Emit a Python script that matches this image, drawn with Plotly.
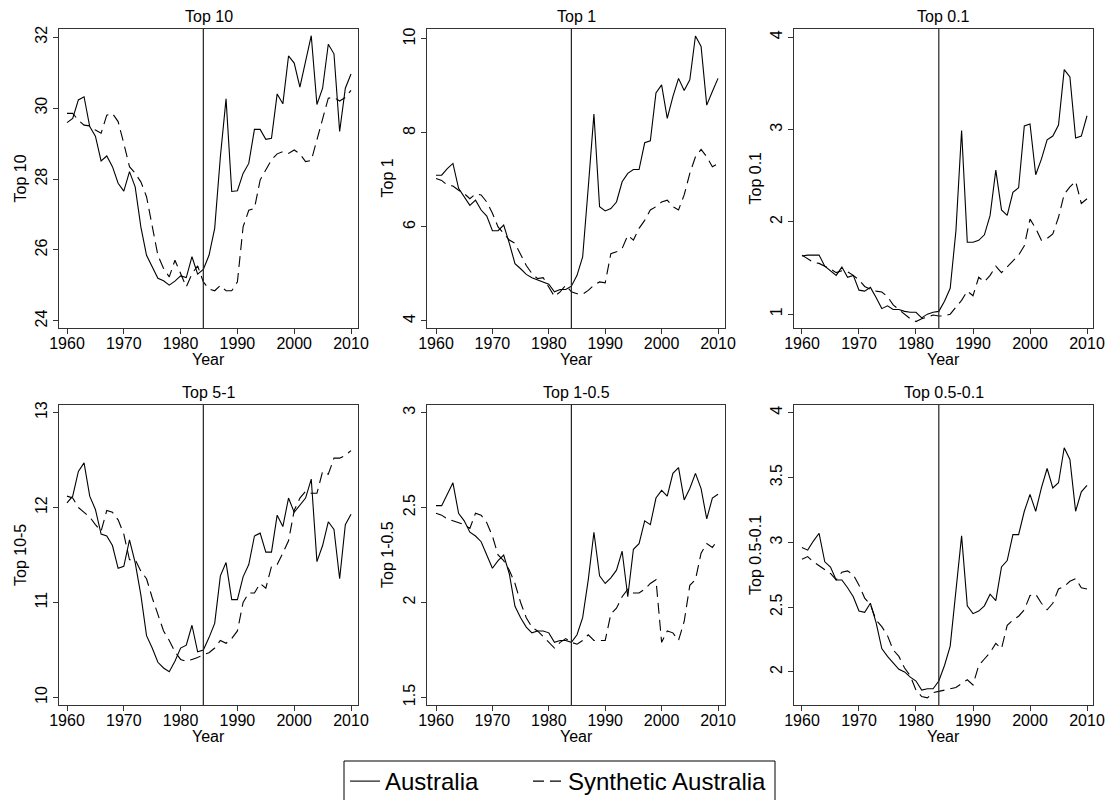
import plotly.graph_objects as go

years = list(range(1960, 2011))

top10_aus = [29.59, 29.71, 30.23, 30.32, 29.48, 29.21, 28.51, 28.65, 28.35, 27.88,
             27.66, 28.21, 27.78, 26.65, 25.85, 25.52, 25.20, 25.13, 25.01, 25.12,
             25.27, 25.22, 25.81, 25.32, 25.45, 25.85, 26.61, 28.63, 30.26, 27.65,
             27.67, 28.16, 28.44, 29.40, 29.40, 29.12, 29.15, 30.40, 30.12, 31.47,
             31.27, 30.59, 31.30, 32.04, 30.10, 30.56, 31.80, 31.53, 29.34, 30.56,
             30.96]
top10_syn = [29.85, 29.85, 29.66, 29.52, 29.50, 29.38, 29.29, 29.80, 29.85, 29.62,
             29.00, 28.35, 28.16, 27.92, 27.50, 26.65, 25.85, 25.48, 25.24, 25.71,
             25.33, 24.96, 25.33, 25.55, 25.10, 24.90, 24.85, 25.00, 24.85, 24.85,
             25.10, 26.65, 27.12, 27.17, 27.97, 28.25, 28.54, 28.71, 28.77, 28.72,
             28.82, 28.71, 28.49, 28.52, 29.10, 29.67, 30.28, 30.30, 30.20, 30.30,
             30.50]

top1_aus = [7.10, 7.10, 7.24, 7.35, 6.82, 6.64, 6.46, 6.57, 6.36, 6.23,
            5.92, 5.92, 6.04, 5.65, 5.22, 5.11, 4.99, 4.92, 4.87, 4.83,
            4.78, 4.62, 4.67, 4.67, 4.74, 4.97, 5.36, 6.85, 8.40, 6.43,
            6.34, 6.39, 6.53, 6.96, 7.14, 7.22, 7.22, 7.79, 7.83, 8.85,
            9.02, 8.31, 8.77, 9.16, 8.90, 9.13, 10.06, 9.84, 8.59, 8.88,
            9.16]
top1_syn = [7.03, 6.99, 6.89, 6.87, 6.78, 6.71, 6.60, 6.70, 6.68, 6.53,
            6.29, 6.00, 5.86, 5.72, 5.65, 5.43, 5.18, 5.01, 4.90, 4.92,
            4.72, 4.52, 4.62, 4.76, 4.62, 4.58, 4.57, 4.65, 4.76, 4.83,
            4.81, 5.43, 5.47, 5.54, 5.82, 5.72, 5.97, 6.14, 6.36, 6.43,
            6.53, 6.57, 6.43, 6.36, 6.68, 7.14, 7.49, 7.65, 7.49, 7.28,
            7.35]

top01_aus = [1.63, 1.64, 1.64, 1.64, 1.52, 1.47, 1.42, 1.51, 1.40, 1.42,
             1.26, 1.25, 1.29, 1.18, 1.06, 1.09, 1.05, 1.05, 1.03, 1.02,
             1.02, 0.96, 1.00, 1.02, 1.03, 1.14, 1.28, 1.90, 2.99, 1.78,
             1.78, 1.80, 1.86, 2.07, 2.56, 2.13, 2.07, 2.32, 2.37, 3.04,
             3.06, 2.51, 2.68, 2.89, 2.93, 3.05, 3.65, 3.57, 2.91, 2.93,
             3.15]
top01_syn = [1.64, 1.60, 1.56, 1.55, 1.52, 1.49, 1.45, 1.47, 1.46, 1.42,
             1.37, 1.30, 1.27, 1.25, 1.24, 1.19, 1.10, 1.05, 1.00, 0.95,
             0.92, 0.95, 0.97, 0.99, 0.98, 0.98, 1.00, 1.08, 1.15, 1.25,
             1.20, 1.40, 1.35, 1.42, 1.52, 1.45, 1.51, 1.57, 1.64, 1.74,
             2.03, 1.93, 1.80, 1.82, 1.87, 2.05, 2.30, 2.38, 2.44, 2.20,
             2.25]

top5_1_aus = [12.05, 12.12, 12.38, 12.47, 12.12, 11.98, 11.72, 11.70, 11.60, 11.36,
              11.38, 11.66, 11.42, 11.08, 10.65, 10.52, 10.37, 10.31, 10.27, 10.38,
              10.52, 10.55, 10.76, 10.48, 10.50, 10.63, 10.78, 11.28, 11.42, 11.03,
              11.03, 11.27, 11.40, 11.70, 11.73, 11.53, 11.53, 11.92, 11.80, 12.10,
              11.95, 12.03, 12.10, 12.30, 11.43, 11.60, 11.85, 11.77, 11.25, 11.82,
              11.93]
top5_1_syn = [12.12, 12.10, 12.00, 11.95, 11.90, 11.82, 11.75, 11.97, 11.95, 11.87,
              11.72, 11.45, 11.45, 11.33, 11.25, 11.05, 10.87, 10.70, 10.60, 10.48,
              10.40, 10.38, 10.40, 10.42, 10.45, 10.47, 10.52, 10.60, 10.57, 10.62,
              10.70, 11.00, 11.10, 11.10, 11.20, 11.15, 11.38, 11.40, 11.52, 11.65,
              11.97, 12.10, 12.17, 12.15, 12.15, 12.38, 12.35, 12.52, 12.52, 12.55,
              12.60]

top1_05_aus = [2.51, 2.51, 2.57, 2.63, 2.47, 2.43, 2.37, 2.35, 2.32, 2.25,
               2.18, 2.22, 2.25, 2.15, 1.98, 1.92, 1.87, 1.84, 1.85, 1.85,
               1.84, 1.79, 1.80, 1.80, 1.79, 1.83, 1.92, 2.12, 2.37, 2.14,
               2.10, 2.13, 2.17, 2.27, 2.03, 2.28, 2.31, 2.43, 2.41, 2.55,
               2.59, 2.56, 2.68, 2.71, 2.54, 2.60, 2.68, 2.60, 2.44, 2.55,
               2.57]
top1_05_syn = [2.47, 2.46, 2.44, 2.43, 2.42, 2.41, 2.39, 2.47, 2.46, 2.42,
               2.35, 2.25, 2.22, 2.17, 2.10, 2.00, 1.92, 1.87, 1.85, 1.82,
               1.79, 1.76, 1.79, 1.81, 1.79, 1.78, 1.80, 1.83, 1.80, 1.80,
               1.80, 1.94, 1.97, 2.03, 2.07, 2.05, 2.05, 2.07, 2.10, 2.12,
               1.79, 1.85, 1.84, 1.80, 1.90, 2.09, 2.12, 2.26, 2.31, 2.29,
               2.33]

top05_01_aus = [2.96, 2.94, 3.01, 3.07, 2.85, 2.81, 2.71, 2.71, 2.65, 2.58,
                2.47, 2.46, 2.53, 2.38, 2.18, 2.12, 2.07, 2.02, 2.00, 1.96,
                1.93, 1.86, 1.87, 1.87, 1.93, 2.05, 2.20, 2.65, 3.05, 2.51,
                2.45, 2.47, 2.51, 2.60, 2.55, 2.81, 2.86, 3.06, 3.06, 3.24,
                3.37, 3.24, 3.42, 3.57, 3.42, 3.46, 3.73, 3.64, 3.24, 3.39,
                3.44]
top05_01_syn = [2.87, 2.89, 2.85, 2.82, 2.79, 2.76, 2.71, 2.77, 2.78, 2.75,
                2.67, 2.57, 2.52, 2.40, 2.35, 2.28, 2.17, 2.12, 2.03, 1.97,
                1.86, 1.81, 1.80, 1.84, 1.85, 1.86, 1.87, 1.88, 1.91, 1.94,
                1.90, 2.05, 2.10, 2.15, 2.22, 2.18, 2.36, 2.40, 2.43, 2.48,
                2.59, 2.60, 2.53, 2.48, 2.53, 2.64, 2.66, 2.70, 2.72, 2.65,
                2.64]

titles = ["Top 10", "Top 1", "Top 0.1", "Top 5-1", "Top 1-0.5", "Top 0.5-0.1"]
ytitles = ["Top 10", "Top 1", "Top 0.1", "Top 10-5", "Top 1-0.5", "Top 0.5-0.1"]
aus_series = [top10_aus, top1_aus, top01_aus, top5_1_aus, top1_05_aus, top05_01_aus]
syn_series = [top10_syn, top1_syn, top01_syn, top5_1_syn, top1_05_syn, top05_01_syn]
ytickvals = [[24, 26, 28, 30, 32], [4, 6, 8, 10], [1, 2, 3, 4],
             [10, 11, 12, 13], [1.5, 2, 2.5, 3], [2, 2.5, 3, 3.5, 4]]
xtickvals = [1960, 1970, 1980, 1990, 2000, 2010]
treatment_year = 1984

# layout geometry (pixels)
W, H = 1110, 800
cols = [(59, 358), (427, 725), (794, 1093)]
rows = [(29, 328), (405, 705)]
yranges = [[23.8, 32.23], [3.85, 10.21], [0.85, 4.09],
           [9.92, 13.08], [1.46, 3.04], [1.745, 4.06]]
xranges = [[1958.59, 2011.23], [1958.4, 2011.24], [1958.6, 2011.05]]
ylab_x = [20, 387, 755]
title_y = [16, 392]
xlab_y = [360, 736]

FONT = "Liberation Sans, Arial, sans-serif"
FS = 16
fig = go.Figure()
layout = dict(
    width=W, height=H,
    margin=dict(l=0, r=0, t=0, b=0, autoexpand=False),
    paper_bgcolor="white", plot_bgcolor="white",
    font=dict(family=FONT, color="black", size=FS),
    showlegend=True,
    legend=dict(orientation="h", x=345 / W, xanchor="left", y=1 - 759 / H, yanchor="top",
                borderwidth=0, font=dict(size=24, family=FONT), bgcolor="rgba(0,0,0,0)"),
    legend2=dict(orientation="h", x=528 / W, xanchor="left", y=1 - 759 / H, yanchor="top",
                 borderwidth=0, font=dict(size=24, family=FONT), bgcolor="rgba(0,0,0,0)"),
)
shapes = []
annotations = []
for i in range(6):
    r, c = divmod(i, 3)
    n = i + 1
    xa = "x" if n == 1 else f"x{n}"
    ya = "y" if n == 1 else f"y{n}"
    xl = (cols[c][0] / W, cols[c][1] / W)
    yd = (1 - rows[r][1] / H, 1 - rows[r][0] / H)
    fig.add_trace(go.Scatter(x=years, y=aus_series[i], mode="lines", name="Australia",
                             line=dict(color="black", width=1.1), xaxis=xa, yaxis=ya,
                             showlegend=(i == 0), legend="legend"))
    fig.add_trace(go.Scatter(x=years, y=syn_series[i], mode="lines", name="Synthetic Australia",
                             line=dict(color="black", width=1.1, dash="11px,6px"), xaxis=xa, yaxis=ya,
                             showlegend=(i == 0), legend="legend2"))
    axis_common = dict(showline=True, linecolor="#333333", linewidth=1, mirror=True,
                       ticks="outside", ticklen=5, tickcolor="#333333", showgrid=False,
                       zeroline=False, tickfont=dict(size=FS, family=FONT))
    layout["xaxis" if n == 1 else f"xaxis{n}"] = dict(
        domain=list(xl), range=xranges[c], tickvals=xtickvals, anchor=ya,
        ticklabelstandoff=-4, **axis_common)
    layout["yaxis" if n == 1 else f"yaxis{n}"] = dict(
        domain=list(yd), range=yranges[i], tickvals=ytickvals[i], anchor=xa,
        tickangle=-90, **axis_common)
    shapes.append(dict(type="line", xref=xa, yref=f"{ya} domain", x0=treatment_year,
                       x1=treatment_year, y0=0, y1=1, line=dict(color="#222222", width=1.2)))
    cx = (cols[c][0] + cols[c][1]) / 2 / W
    annotations.append(dict(text=titles[i], x=cx, y=1 - title_y[r] / H, xref="paper", yref="paper",
                            showarrow=False, xanchor="center", yanchor="middle",
                            font=dict(size=FS, family=FONT)))
    annotations.append(dict(text="Year", x=cx, y=1 - xlab_y[r] / H, xref="paper", yref="paper",
                            showarrow=False, xanchor="center", yanchor="middle",
                            font=dict(size=FS, family=FONT)))
    cy = 1 - (rows[r][0] + rows[r][1]) / 2 / H
    annotations.append(dict(text=ytitles[i], x=ylab_x[c] / W, y=cy, xref="paper", yref="paper",
                            showarrow=False, xanchor="center", yanchor="middle", textangle=-90,
                            font=dict(size=FS, family=FONT)))

# legend frame (open at the bottom edge of the page, as in the reference)
shapes.append(dict(type="rect", xref="paper", yref="paper", x0=344 / W, x1=775 / W,
                   y0=-0.05, y1=1 - 761 / H, line=dict(color="black", width=1),
                   fillcolor="rgba(0,0,0,0)", layer="below"))

layout["shapes"] = shapes
layout["annotations"] = annotations
fig.update_layout(**layout)
fig.write_html("out.html")
